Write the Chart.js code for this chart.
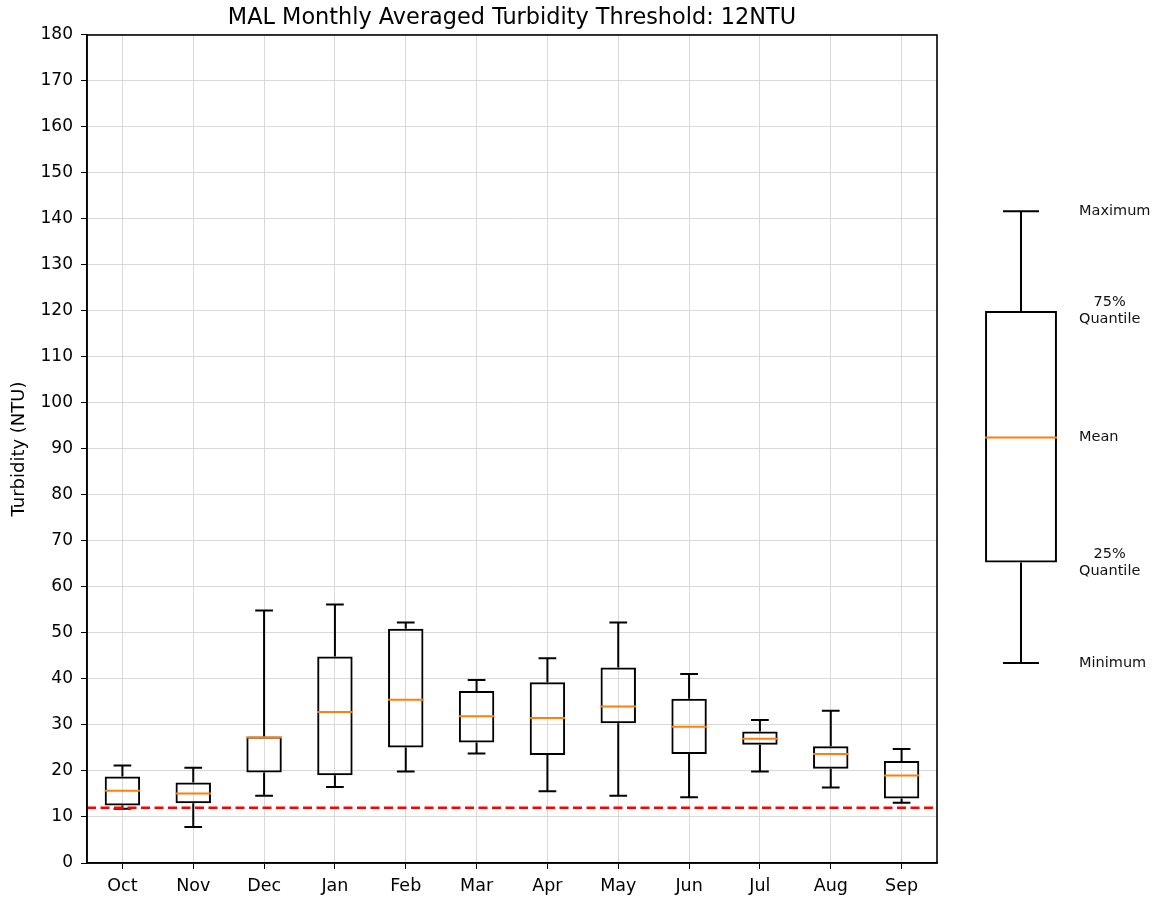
<!DOCTYPE html>
<html>
<head>
<meta charset="utf-8">
<script src="https://cdn.jsdelivr.net/npm/chart.js@4.4.1/dist/chart.umd.min.js"></script>
<style>
  html, body { margin: 0; padding: 0; background: #ffffff; }
  #wrap { position: relative; width: 1155px; height: 898px; }
  #main { position: absolute; left: 0; top: 0; }
  #legend { position: absolute; left: 940px; top: 0; }
</style>
</head>
<body>
<div id="wrap">
  <canvas id="main" width="1155" height="898"></canvas>
  <canvas id="legend" width="215" height="898"></canvas>
</div>
<script>
// ---- data ----
const months   = ['Oct','Nov','Dec','Jan','Feb','Mar','Apr','May','Jun','Jul','Aug','Sep'];
const minVals  = [11.8,  7.8, 14.6, 16.5, 19.9, 23.8, 15.6, 14.6, 14.3, 19.9, 16.4, 13.1];
const q1Vals   = [12.5, 13.0, 19.7, 19.1, 25.1, 26.2, 23.5, 30.4, 23.7, 25.7, 20.5, 14.0];
const meanVals = [15.7, 15.1, 27.3, 32.8, 35.5, 31.9, 31.5, 34.0, 29.6, 27.0, 23.7, 19.0];
const q3Vals   = [18.8, 17.5, 27.5, 44.9, 50.9, 37.4, 39.3, 42.5, 35.7, 28.6, 25.4, 22.2];
const maxVals  = [21.2, 20.7, 54.9, 56.2, 52.3, 39.8, 44.5, 52.3, 41.1, 31.1, 33.1, 24.8];
const threshold = 12;
const yMin = 0, yMax = 180, yStep = 10;

// explanatory key box
const keyLabels = ['Maximum', '75%\nQuantile', 'Mean', '25%\nQuantile', 'Minimum'];
const keyVals   = [141.7, 120.0, 92.5, 65.3, 43.5];

const titleText = 'MAL Monthly Averaged Turbidity Threshold: 12NTU';
const yTitle = 'Turbidity (NTU)';

const FONT = "'DejaVu Sans', sans-serif";
const ORANGE = '#ff7f0e';

function drawBoxParts(ctx, cx, w, yS, lo, q1, mid, q3, hi) {
  const capHalf = w / 4;
  ctx.strokeStyle = '#000000';
  ctx.lineWidth = 2;
  ctx.beginPath();
  ctx.moveTo(cx, yS.getPixelForValue(q3)); ctx.lineTo(cx, yS.getPixelForValue(hi));
  ctx.moveTo(cx, yS.getPixelForValue(q1)); ctx.lineTo(cx, yS.getPixelForValue(lo));
  ctx.moveTo(cx - capHalf, yS.getPixelForValue(hi)); ctx.lineTo(cx + capHalf, yS.getPixelForValue(hi));
  ctx.moveTo(cx - capHalf, yS.getPixelForValue(lo)); ctx.lineTo(cx + capHalf, yS.getPixelForValue(lo));
  ctx.stroke();
  ctx.strokeStyle = ORANGE;
  ctx.lineWidth = 2;
  ctx.beginPath();
  ctx.moveTo(cx - w / 2, yS.getPixelForValue(mid));
  ctx.lineTo(cx + w / 2, yS.getPixelForValue(mid));
  ctx.stroke();
}

const mainPlugin = {
  id: 'mainBoxes',
  afterDatasetsDraw(chart) {
    const { ctx, chartArea, scales } = chart;
    const meta = chart.getDatasetMeta(0);
    ctx.save();
    meta.data.forEach((bar, i) => {
      drawBoxParts(ctx, bar.x, bar.width, scales.y,
        minVals[i], q1Vals[i], meanVals[i], q3Vals[i], maxVals[i]);
    });
    // threshold line
    const ty = scales.y.getPixelForValue(threshold);
    ctx.strokeStyle = '#ff0000';
    ctx.lineWidth = 2.5;
    ctx.setLineDash([9, 4.5]);
    ctx.beginPath();
    ctx.moveTo(chartArea.left, ty);
    ctx.lineTo(chartArea.right, ty);
    ctx.stroke();
    ctx.setLineDash([]);
    // frame
    ctx.strokeStyle = '#000000';
    ctx.lineWidth = 1.6;
    ctx.strokeRect(chartArea.left, chartArea.top, chartArea.right - chartArea.left, chartArea.bottom - chartArea.top);
    ctx.restore();
  }
};

new Chart(document.getElementById('main'), {
  type: 'bar',
  data: {
    labels: months,
    datasets: [{
      data: months.map((m, i) => [q1Vals[i], q3Vals[i]]),
      backgroundColor: 'rgba(0,0,0,0)',
      borderColor: '#000000',
      borderWidth: 2,
      borderSkipped: false,
      barPercentage: 0.5,
      categoryPercentage: 1.0
    }]
  },
  options: {
    responsive: false,
    animation: false,
    layout: { padding: { left: 0, right: 218, top: 0, bottom: 0 } },
    plugins: {
      legend: { display: false },
      tooltip: { enabled: false },
      title: {
        display: true,
        text: titleText,
        fullSize: false,
        color: '#000000',
        font: { family: FONT, size: 22.4, weight: 'normal' },
        padding: { top: 4.5, bottom: 3.6 }
      }
    },
    scales: {
      x: {
        grid: { offset: false, color: '#d9d9d9', lineWidth: 1, tickLength: 6, tickColor: '#000000' },
        border: { color: '#000000', width: 1.6 },
        ticks: { color: '#000000', font: { family: FONT, size: 17.5 }, padding: 7 },
        afterFit(scale) { scale.height = 35; }
      },
      y: {
        min: yMin, max: yMax,
        grid: { color: '#d9d9d9', lineWidth: 1, tickLength: 6, tickColor: '#000000' },
        border: { color: '#000000', width: 1.6 },
        ticks: { stepSize: yStep, color: '#000000', font: { family: FONT, size: 17 }, padding: 8 },
        title: { display: true, text: yTitle, color: '#000000', font: { family: FONT, size: 18 }, padding: { top: 9, bottom: 0 } },
        afterFit(scale) { scale.width = 87; }
      }
    }
  },
  plugins: [mainPlugin]
});

const keyPlugin = {
  id: 'keyBox',
  afterDatasetsDraw(chart) {
    const { ctx, scales } = chart;
    const bar = chart.getDatasetMeta(0).data[0];
    ctx.save();
    drawBoxParts(ctx, bar.x, bar.width, scales.y,
      keyVals[4], keyVals[3], keyVals[2], keyVals[1], keyVals[0]);
    ctx.fillStyle = '#111111';
    ctx.font = '14.5px ' + FONT;
    ctx.textBaseline = 'middle';
    const x0 = bar.x + 58;
    const lh = 17;
    keyLabels.forEach((lab, i) => {
      const lines = lab.split('\n');
      const yc = scales.y.getPixelForValue(keyVals[i]);
      if (lines.length === 1) {
        ctx.textAlign = 'left';
        ctx.fillText(lab, x0, yc);
      } else {
        const maxW = Math.max(...lines.map(l => ctx.measureText(l).width));
        ctx.textAlign = 'center';
        lines.forEach((l, j) => {
          ctx.fillText(l, x0 + maxW / 2, yc + (j - (lines.length - 1) / 2) * lh);
        });
      }
    });
    ctx.restore();
  }
};

new Chart(document.getElementById('legend'), {
  type: 'bar',
  data: {
    labels: [''],
    datasets: [{
      data: [[keyVals[3], keyVals[1]]],
      backgroundColor: 'rgba(0,0,0,0)',
      borderColor: '#000000',
      borderWidth: 2,
      borderSkipped: false,
      barPercentage: 0.444,
      categoryPercentage: 1.0
    }]
  },
  options: {
    responsive: false,
    animation: false,
    layout: { padding: { left: 0, right: 53, top: 35, bottom: 35 } },
    plugins: { legend: { display: false }, tooltip: { enabled: false }, title: { display: false } },
    scales: {
      x: { display: false },
      y: { display: false, min: yMin, max: yMax }
    }
  },
  plugins: [keyPlugin]
});
</script>
</body>
</html>
